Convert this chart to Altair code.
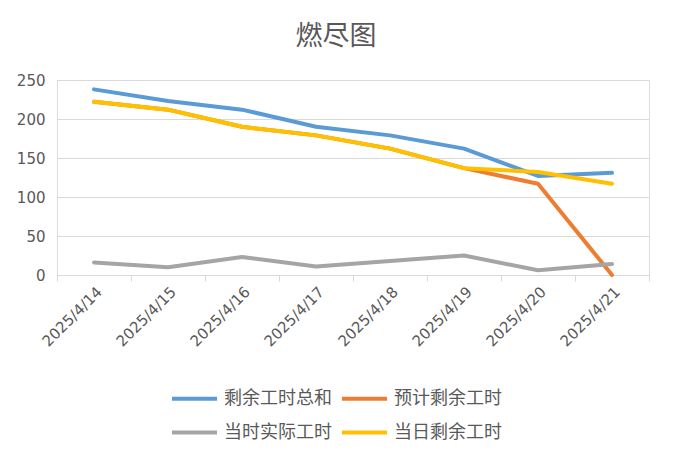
import altair as alt
import pandas as pd

dates = ["2025/4/14", "2025/4/15", "2025/4/16", "2025/4/17",
         "2025/4/18", "2025/4/19", "2025/4/20", "2025/4/21"]
series_names = ["剩余工时总和", "预计剩余工时", "当时实际工时", "当日剩余工时"]
total = [238, 223, 212, 190, 179, 162, 127, 131]
forecast = [222, 212, 190, 179, 162, 137, 117, 0]
actual = [16, 10, 23, 11, 18, 25, 6, 14]
daily = [222, 212, 190, 179, 162, 137, 132, 117]
colors = ["#5B9BD5", "#ED7D31", "#A5A5A5", "#FFC000"]
y_ticks = [0, 50, 100, 150, 200, 250]

rows = []
for name, vals in zip(series_names, [total, forecast, actual, daily]):
    for i, (d, v) in enumerate(zip(dates, vals)):
        rows.append({"date": d, "series": name, "value": v, "idx": i})
df = pd.DataFrame(rows)

TXT = "#595959"
GRID = "#D9D9D9"

chart = alt.Chart(df).mark_line(
    strokeWidth=4, strokeCap="round", strokeJoin="round"
).encode(
    x=alt.X(
        "date:N", sort=dates, bandPosition=0.5,
        scale=alt.Scale(type="band", paddingInner=0, paddingOuter=0),
        axis=alt.Axis(
            title=None, labelAngle=-45, labelAlign="right", labelBaseline="top",
            tickBand="extent", ticks=True, tickSize=6, tickColor=GRID,
            domainColor=GRID, labelColor=TXT, labelFont="DejaVu Sans",
            labelFontSize=15, labelPadding=3, grid=False,
        ),
    ),
    y=alt.Y(
        "value:Q", scale=alt.Scale(domain=[0, 250], nice=False),
        axis=alt.Axis(
            title=None, values=y_ticks, domain=False, ticks=False,
            labelPadding=12, gridColor=GRID, labelColor=TXT,
            labelFont="DejaVu Sans", labelFontSize=15,
        ),
    ),
    color=alt.Color(
        "series:N", sort=series_names,
        scale=alt.Scale(domain=series_names, range=colors),
        legend=alt.Legend(
            title=None, orient="none", legendX=113, legendY=294, columns=2,
            direction="horizontal",
            symbolType="stroke", symbolSize=2025, symbolStrokeWidth=4,
            labelFontSize=18, labelFont="Noto Sans CJK SC", labelColor=TXT,
            labelOffset=5, columnPadding=2, rowPadding=-7,
        ),
    ),
    order="idx:Q",
).properties(
    width=592, height=195,
    title=alt.TitleParams(
        "燃尽图", fontSize=27, font="Noto Sans CJK SC", color=TXT,
        fontWeight="normal", anchor="middle", dx=-17, offset=22,
    ),
    padding={"left": 49, "top": 72, "right": 16, "bottom": 173},
    autosize=alt.AutoSizeParams(type="none"),
).configure_view(stroke=None).configure(background="white")

chart.save("out.html", embed_options={"renderer": "svg", "actions": False})
